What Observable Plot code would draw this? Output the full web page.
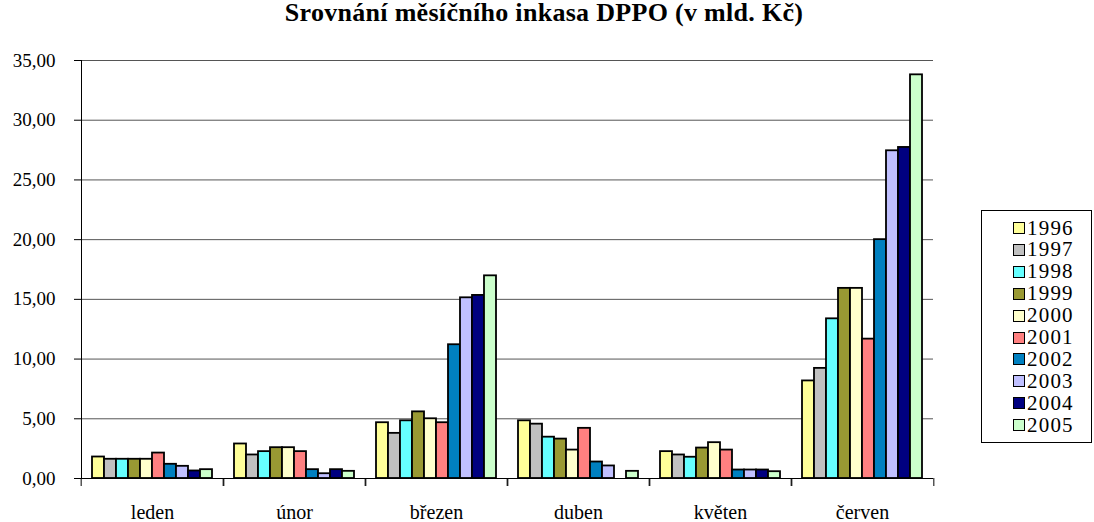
<!DOCTYPE html>
<html>
<head>
<meta charset="utf-8">
<script src="https://cdn.jsdelivr.net/npm/d3@7"></script>
<script src="https://cdn.jsdelivr.net/npm/@observablehq/plot@0.6"></script>
<style>
  html, body { margin: 0; padding: 0; background: #fff; }
  #wrap { position: relative; width: 1094px; height: 522px; }
  #title { position: absolute; left: 0; top: 0; width: 1088px; text-align: center; font-weight: bold; font-size: 26px; line-height: 25px; letter-spacing: 0.3px; color: #000; }
  #legend { position: absolute; left: 981px; top: 210px; width: 111px; height: 233px; border: 1px solid #000; box-sizing: border-box; background: #fff; }
  .item { position: absolute; left: 31px; height: 22px; display: flex; align-items: center; font-size: 21px; letter-spacing: 1.2px; color: #000; }
  .sw { width: 10px; height: 10px; border: 1.6px solid #000; margin-right: 2px; }
  #chart { position: absolute; left: 0; top: 0; }
</style>
</head>
<body>
<div id="wrap">
  <div id="chart"></div>
  <div id="title">Srovnání měsíčního inkasa DPPO (v mld. Kč)</div>
  <div id="legend"></div>
</div>
<script>
const months = ["leden", "únor", "březen", "duben", "květen", "červen"];
const years = ["1996", "1997", "1998", "1999", "2000", "2001", "2002", "2003", "2004", "2005"];
const colors = ["#FFFF99", "#C0C0C0", "#66FFFF", "#999933", "#FFFFCC", "#FF8080", "#0080C0", "#C0C0FF", "#000080", "#CCFFCC"];
const yTicks = [0, 5, 10, 15, 20, 25, 30, 35];

// values per year, in month order (leden … červen), bn CZK
const v1996 = [1.80, 2.89, 4.67, 4.83, 2.25, 8.17];
const v1997 = [1.61, 1.97, 3.78, 4.55, 1.97, 9.22];
const v1998 = [1.61, 2.25, 4.83, 3.46, 1.78, 13.37];
const v1999 = [1.61, 2.58, 5.58, 3.30, 2.55, 15.92];
const v2000 = [1.61, 2.58, 5.00, 2.38, 3.00, 15.92];
const v2001 = [2.13, 2.25, 4.67, 4.20, 2.38, 11.67];
const v2002 = [1.19, 0.74, 11.20, 1.38, 0.71, 20.00];
const v2003 = [1.02, 0.40, 15.13, 1.05, 0.71, 27.44];
const v2004 = [0.63, 0.74, 15.33, null, 0.71, 27.72];
const v2005 = [0.74, 0.60, 16.97, 0.60, 0.57, 33.80];

const series = [v1996, v1997, v1998, v1999, v2000, v2001, v2002, v2003, v2004, v2005];
const data = [];
years.forEach((yr, i) => months.forEach((m, j) => {
  const v = series[i][j];
  if (v != null) data.push({month: m, year: yr, value: v});
}));

const W = 1094, H = 522, ML = 79, MR = 159, MT = 60, MB = 44;
const half = (W - ML - MR) / months.length / 2;
const font = "'Liberation Serif'";

const chart = Plot.plot({
  width: W, height: H,
  marginLeft: ML, marginRight: MR, marginTop: MT, marginBottom: MB,
  style: {color: "#000", background: "transparent"},
  fx: {domain: months, padding: 0, label: null},
  x: {domain: years, paddingInner: 0, paddingOuter: 0.69, axis: null},
  y: {domain: [0, 35], label: null},
  color: {domain: years, range: colors},
  marks: [
    Plot.gridY(yTicks, {stroke: "#555", strokeOpacity: 1, strokeWidth: 1}),
    Plot.barY(data, {fx: "month", x: "year", y: "value", fill: "year", stroke: "#000", strokeWidth: 1.8}),
    Plot.ruleY([0], {stroke: "#000", strokeWidth: 1}),
    Plot.frame({anchor: "left", facet: "super", stroke: "#000"}),
    Plot.axisY({ticks: yTicks, tickSize: 7, tickPadding: 19, fontSize: 19, label: null,
      tickFormat: d => d.toFixed(2).replace(".", ",")}),
    Plot.axisFx({anchor: "bottom", tickSize: 0, tickPadding: 26, fontSize: 20, label: null}),
    Plot.axisFx({anchor: "bottom", tickSize: 8, text: null, dx: -half, label: null}),
    Plot.axisFx({anchor: "bottom", tickSize: 8, text: null, dx: half, label: null})
  ]
});
chart.style.fontFamily = font;
d3.select(chart).selectAll("g, text").each(function() { this.style.fontFamily = font; });
document.getElementById("chart").appendChild(chart);

document.getElementById("wrap").style.fontFamily = font;
document.getElementById("title").style.fontFamily = font;

const legend = document.getElementById("legend");
legend.style.fontFamily = font;
years.forEach((yr, i) => {
  const it = document.createElement("div");
  it.className = "item";
  it.style.top = (6 + i * 21.9) + "px";
  it.style.fontFamily = font;
  const sw = document.createElement("div");
  sw.className = "sw";
  sw.style.background = colors[i];
  it.appendChild(sw);
  it.appendChild(document.createTextNode(yr));
  legend.appendChild(it);
});
</script>
</body>
</html>
